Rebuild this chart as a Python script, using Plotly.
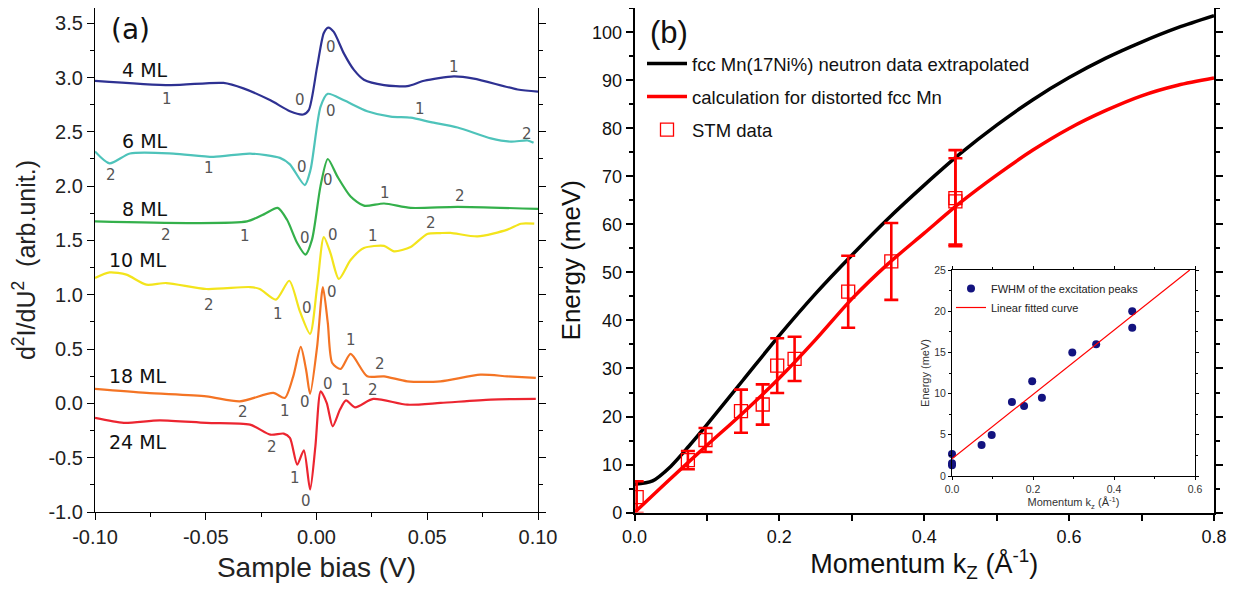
import plotly.graph_objects as go

# The page body has an 8 px default margin; the figure is sized to fit inside it.
OFF = 8
W, H = 1235 - 2 * OFF, 591 - 2 * OFF

# ---------------- Panel (a) data: d2I/dU2 spectra ----------------
bias_4ml = [-0.1, -0.066, -0.042, -0.033, -0.0208, -0.012, -0.006, -0.0035, 0.0003, 0.0033, 0.0053, 0.0078,
            0.0124, 0.0169, 0.0214, 0.0305, 0.041, 0.0486, 0.062, 0.071, 0.0908, 0.1]
d2_4ml = [2.97, 2.93, 2.95, 2.90, 2.79, 2.69, 2.66, 2.70, 3.10, 3.41, 3.46, 3.42,
          3.22, 3.07, 2.98, 2.93, 2.92, 2.97, 3.01, 2.99, 2.89, 2.87]

bias_6ml = [-0.1, -0.0934, -0.0842, -0.0646, -0.0465, -0.030, -0.0165, -0.012, -0.0053, -0.0027, 0.0018,
            0.0051, 0.0124, 0.0229, 0.0335, 0.0425, 0.0516, 0.0637, 0.0787, 0.0878, 0.0953, 0.098]
d2_6ml = [2.32, 2.21, 2.30, 2.30, 2.27, 2.30, 2.26, 2.20, 2.01, 2.15, 2.73,
          2.85, 2.79, 2.69, 2.64, 2.63, 2.59, 2.54, 2.44, 2.41, 2.42, 2.40]

bias_8ml = [-0.1, -0.057, -0.0314, -0.0238, -0.0175, -0.0133, -0.0087, -0.005, -0.002, 0.0018, 0.0051,
            0.0094, 0.0154, 0.0214, 0.0305, 0.0425, 0.0637, 0.1]
d2_8ml = [1.675, 1.66, 1.675, 1.74, 1.80, 1.69, 1.476, 1.37, 1.51, 2.0, 2.25,
          2.09, 1.905, 1.82, 1.84, 1.80, 1.81, 1.79]

bias_10ml = [-0.1, -0.0934, -0.0858, -0.0768, -0.0678, -0.0497, -0.030, -0.0256, -0.0183, -0.0123, -0.0075,
             -0.0029, 0.0003, 0.0033, 0.0063, 0.0101, 0.0154, 0.0214, 0.0305, 0.035, 0.0425, 0.05, 0.056,
             0.0605, 0.0727, 0.0862, 0.0923, 0.0983]
d2_10ml = [1.154, 1.206, 1.185, 1.093, 1.108, 1.053, 1.071, 1.053, 0.955, 1.129, 0.847,
           0.64, 1.077, 1.53, 1.384, 1.145, 1.32, 1.43, 1.45, 1.40, 1.44, 1.56, 1.568,
           1.57, 1.537, 1.60, 1.654, 1.654]

bias_18ml = [-0.1, -0.0768, -0.0497, -0.0346, -0.0195, -0.0143, -0.0105, -0.0071, -0.0047, -0.0029, 0.0003,
             0.0029, 0.0051, 0.0071, 0.0109, 0.0154, 0.0229, 0.0305, 0.041, 0.056, 0.074, 0.0862, 0.099]
d2_18ml = [0.133, 0.096, 0.065, 0.019, 0.096, 0.05, 0.249, 0.52, 0.31, 0.087, 0.525,
           1.071, 0.74, 0.372, 0.317, 0.455, 0.249, 0.249, 0.203, 0.203, 0.264, 0.249, 0.234]

bias_24ml = [-0.1, -0.087, -0.0708, -0.0497, -0.030, -0.0208, -0.0148, -0.012, -0.0087, -0.0057, -0.0029,
             -0.0005, 0.0019, 0.0046, 0.0073, 0.0106, 0.0133, 0.0174, 0.0256, 0.041, 0.056, 0.0787, 0.099]
d2_24ml = [-0.134, -0.18, -0.156, -0.18, -0.196, -0.288, -0.278, -0.318, -0.564, -0.432, -0.793,
           -0.395, 0.111, 0.004, -0.211, -0.057, 0.028, -0.036, 0.041, -0.012, 0.004, 0.035, 0.041]

series_a = [
    ("4 ML", bias_4ml, d2_4ml, "#2E3192"),
    ("6 ML", bias_6ml, d2_6ml, "#4EC3BA"),
    ("8 ML", bias_8ml, d2_8ml, "#34B04B"),
    ("10 ML", bias_10ml, d2_10ml, "#F3E41C"),
    ("18 ML", bias_18ml, d2_18ml, "#F47424"),
    ("24 ML", bias_24ml, d2_24ml, "#EC2530"),
]

thickness_x = [-0.0774, -0.0774, -0.0774, -0.0806, -0.0806, -0.0806]
thickness_y = [3.07, 2.42, 1.79, 1.32, 0.249, -0.358]
thickness_txt = ["4 ML", "6 ML", "8 ML", "10 ML", "18 ML", "24 ML"]

peak_x = [0.0066, 0.062, -0.0673, -0.0076, 0.0066, 0.0466, 0.0949,
          -0.0929, -0.0487, -0.0065, 0.0053, 0.0309, 0.065,
          -0.068, -0.0321, -0.0054, 0.0076, 0.0257, 0.0519,
          -0.0487, -0.0175, -0.0042, 0.0068, 0.0154, 0.0287,
          -0.033, -0.0143, -0.005, 0.0051, 0.0133, 0.0257,
          -0.0202, -0.0097, -0.0049]
peak_y = [3.285, 3.10, 2.80, 2.79, 2.69, 2.71, 2.48,
          2.10, 2.17, 2.18, 2.06, 1.94, 1.91,
          1.55, 1.543, 1.52, 1.55, 1.543, 1.66,
          0.908, 0.826, 0.878, 1.03, 0.58, 0.366,
          -0.082, -0.073, 0.01, 0.179, 0.127, 0.127,
          -0.404, -0.686, -0.895]
peak_txt = ["0", "1", "1", "0", "0", "1", "2",
            "2", "1", "0", "0", "1", "2",
            "2", "1", "0", "0", "1", "2",
            "2", "1", "0", "0", "1", "2",
            "2", "1", "0", "0", "1", "2",
            "2", "1", "0"]

# ---------------- Panel (b) data: dispersion ----------------
k_neutron = [0.0, 0.025, 0.05, 0.075, 0.1, 0.15, 0.2, 0.25, 0.3, 0.35, 0.4, 0.45, 0.5, 0.55, 0.6, 0.65, 0.7,
             0.75, 0.8]
E_neutron = [5.9, 6.6, 9.6, 13.8, 18.3, 27.6, 36.9, 45.6, 53.6, 61.2, 68.2, 74.8, 80.7, 86.0, 90.6, 94.6, 98.0,
             101.0, 103.5]

k_calc = [0.0, 0.05, 0.1, 0.15, 0.2, 0.25, 0.3, 0.35, 0.4, 0.45, 0.5, 0.55, 0.6, 0.65, 0.7, 0.75, 0.8]
E_calc = [0.0, 7.1, 14.0, 20.8, 28.0, 36.0, 44.5, 51.8, 58.2, 64.6, 70.3, 75.5, 80.0, 83.7, 86.8, 89.0, 90.5]

k_stm = [0.003, 0.0737, 0.098, 0.147, 0.177, 0.197, 0.221, 0.295, 0.3545, 0.443, 0.443]
E_stm = [3.2, 10.9, 15.1, 21.1, 22.5, 30.6, 32.0, 46.0, 52.3, 65.5, 64.8]
E_stm_err = [3.3, 1.9, 2.5, 4.5, 4.2, 5.7, 4.6, 7.5, 8.0, 10.0, 9.0]

# ---------------- Inset data: FWHM ----------------
k_fwhm = [0.0, 0.0, 0.0, 0.073, 0.098, 0.148, 0.178, 0.198, 0.222, 0.297, 0.356, 0.445, 0.445]
E_fwhm = [2.67, 1.54, 1.3, 3.76, 4.98, 8.98, 8.5, 11.49, 9.5, 15.0, 16.0, 19.98, 18.0]
k_fit = [0.0, 0.587]
E_fit = [2.1, 25.0]

# ---------------- geometry (window pixels -> paper) ----------------
def px(x):
    return (x - OFF) / W

def py(y):
    return 1 - (y - OFF) / H

fig = go.Figure()

for name, xs, ys, col in series_a:
    fig.add_trace(go.Scatter(x=xs, y=ys, mode="lines", name=name, showlegend=False,
                             line=dict(color=col, width=2.2, shape="spline", smoothing=0.7),
                             xaxis="x", yaxis="y", hoverinfo="skip"))

fig.add_trace(go.Scatter(x=k_neutron, y=E_neutron, mode="lines",
                         name="fcc Mn(17Ni%) neutron data extrapolated",
                         line=dict(color="black", width=3.5, shape="spline", smoothing=0.8),
                         xaxis="x2", yaxis="y2", legendgroup="g1", legend="legend"))
fig.add_trace(go.Scatter(x=k_calc, y=E_calc, mode="lines",
                         name="calculation for distorted fcc Mn",
                         line=dict(color="#FF0000", width=3.5, shape="spline", smoothing=0.8),
                         xaxis="x2", yaxis="y2", legendgroup="g2", legend="legend"))
fig.add_trace(go.Scatter(x=k_stm, y=E_stm, mode="markers", name="STM data",
                         marker=dict(symbol="square-open", size=13, color="#FF0000", line=dict(width=1.3)),
                         error_y=dict(type="data", array=E_stm_err, color="#FF0000", thickness=2.6, width=7),
                         xaxis="x2", yaxis="y2", legendgroup="g3", legend="legend"))

fig.add_trace(go.Scatter(x=k_fwhm, y=E_fwhm, mode="markers", name="FWHM of the excitation peaks",
                         marker=dict(symbol="circle", size=8, color="#13137F"),
                         xaxis="x3", yaxis="y3", legend="legend2", cliponaxis=False))
fig.add_trace(go.Scatter(x=k_fit, y=E_fit, mode="lines", name="Linear fitted curve",
                         line=dict(color="#FF0000", width=1.2),
                         xaxis="x3", yaxis="y3", legend="legend2"))

ax_common = dict(showgrid=False, zeroline=False, showline=True, linecolor="black", mirror="ticks",
                 ticks="outside", tickcolor="black", automargin=False)

tf_a = dict(family="Liberation Sans, Arial, sans-serif", size=20, color="#222")
tf_b = dict(family="Liberation Sans, Arial, sans-serif", size=18, color="#111")
tf_i = dict(family="Liberation Sans, Arial, sans-serif", size=10.5, color="#333")

a_xt = [-0.1, -0.05, 0.0, 0.05, 0.1]
a_yt = [-1.0, -0.5, 0.0, 0.5, 1.0, 1.5, 2.0, 2.5, 3.0, 3.5]
b_xt = [0.0, 0.2, 0.4, 0.6, 0.8]
b_yt = list(range(0, 101, 10))
i_xt = [0.0, 0.2, 0.4, 0.6]
i_yt = [0, 5, 10, 15, 20, 25]

def lab(v, fmt):
    return format(v, fmt)

fig.update_layout(
    width=W, height=H, margin=dict(l=0, r=0, t=0, b=0, autoexpand=False),
    paper_bgcolor="white", plot_bgcolor="white",
    xaxis=dict(ax_common, domain=[px(95), px(538)], range=[-0.1, 0.1], anchor="y",
               tickmode="array", tickvals=a_xt, ticktext=[lab(v, ".2f") for v in a_xt],
               ticklen=7, tickwidth=1.3, linewidth=1.3, tickfont=tf_a,
               minor=dict(tickvals=[-0.075, -0.025, 0.025, 0.075], ticklen=4, ticks="outside", tickcolor="black"),
               title=dict(text="Sample bias (V)", font=dict(family="Liberation Sans, Arial", size=28, color="#222"),
                          standoff=10)),
    yaxis=dict(ax_common, domain=[py(512), py(8)], range=[-1.0, 3.64], anchor="x",
               tickmode="array", tickvals=a_yt, ticktext=[lab(v, ".1f") for v in a_yt],
               ticklen=7, tickwidth=1.3, linewidth=1.3, tickfont=tf_a,
               minor=dict(tickvals=[v + 0.25 for v in a_yt], ticklen=4, ticks="outside", tickcolor="black"),
               title=dict(text="d<sup>2</sup>I/dU<sup>2</sup>  (arb.unit.)",
                          font=dict(family="Liberation Sans, Arial", size=25, color="#222"), standoff=8)),
    xaxis2=dict(ax_common, domain=[px(634.5), px(1214)], range=[0, 0.8], anchor="y2",
                tickmode="array", tickvals=b_xt, ticktext=[lab(v, ".1f") for v in b_xt],
                ticklen=7, tickwidth=1.5, linewidth=1.5, tickfont=tf_b,
                minor=dict(tickvals=[0.1, 0.3, 0.5, 0.7], ticklen=7, ticks="outside", tickcolor="black"),
                title=dict(text="Momentum k<sub>Z</sub> (Å<sup>-1</sup>)",
                           font=dict(family="Liberation Sans, Arial", size=27, color="#111"), standoff=8)),
    yaxis2=dict(ax_common, domain=[py(512.5), py(8)], range=[0, 105.1], anchor="x2",
                tickmode="array", tickvals=b_yt, ticktext=[str(v) for v in b_yt],
                ticklen=7, tickwidth=1.5, linewidth=1.5, tickfont=tf_b,
                minor=dict(tickvals=[v + 5 for v in b_yt], ticklen=4, ticks="outside", tickcolor="black"),
                title=dict(text="Energy (meV)", font=dict(family="Liberation Sans, Arial", size=26, color="#111"),
                           standoff=4)),
    xaxis3=dict(ax_common, domain=[px(952), px(1195)], range=[0, 0.6], anchor="y3",
                tickmode="array", tickvals=i_xt, ticktext=[lab(v, ".1f") for v in i_xt],
                ticklen=3, tickwidth=1, linewidth=1, tickfont=tf_i,
                minor=dict(tickvals=[0.1, 0.3, 0.5], ticklen=2, ticks="outside", tickcolor="black"),
                title=dict(text="Momentum k<sub>z</sub> (Å<sup>-1</sup>)",
                           font=dict(family="Liberation Sans, Arial", size=11, color="#333"), standoff=1)),
    yaxis3=dict(ax_common, domain=[py(476), py(270)], range=[0, 25], anchor="x3",
                tickmode="array", tickvals=i_yt, ticktext=[str(v) for v in i_yt],
                ticklen=3, tickwidth=1, linewidth=1, tickfont=tf_i,
                minor=dict(tickvals=[2.5, 7.5, 12.5, 17.5, 22.5], ticklen=2, ticks="outside", tickcolor="black"),
                title=dict(text="Energy (meV)", font=dict(family="Liberation Sans, Arial", size=11, color="#333"),
                           standoff=2)),
    legend=dict(x=px(642), y=py(45), xanchor="left", yanchor="top", bgcolor="rgba(0,0,0,0)",
                font=dict(family="Liberation Sans, Arial", size=18.5, color="#111"),
                tracegroupgap=6, itemwidth=40),
    legend2=dict(x=px(951), y=py(274), xanchor="left", yanchor="top", bgcolor="rgba(0,0,0,0)",
                 font=dict(family="Liberation Sans, Arial", size=11, color="#222"),
                 tracegroupgap=0, itemwidth=30),
)

annotations = []
for xv, yv, t in zip(thickness_x, thickness_y, thickness_txt):
    annotations.append(dict(x=xv, y=yv, xref="x", yref="y", text=t, showarrow=False,
                            font=dict(family="DejaVu Sans, Verdana", size=19, color="#111")))
for xv, yv, t in zip(peak_x, peak_y, peak_txt):
    annotations.append(dict(x=xv, y=yv, xref="x", yref="y", text=t, showarrow=False,
                            font=dict(family="DejaVu Sans", size=15, color="#555")))
annotations.append(dict(x=-0.0842, y=3.44, xref="x", yref="y", text="(a)", showarrow=False,
                        font=dict(family="DejaVu Sans", size=28, color="#111")))
annotations.append(dict(x=0.047, y=99.9, xref="x2", yref="y2", text="(b)", showarrow=False,
                        font=dict(family="Liberation Sans, Arial", size=31, color="#111")))
fig.update_layout(annotations=annotations)

fig.write_html("out.html")
